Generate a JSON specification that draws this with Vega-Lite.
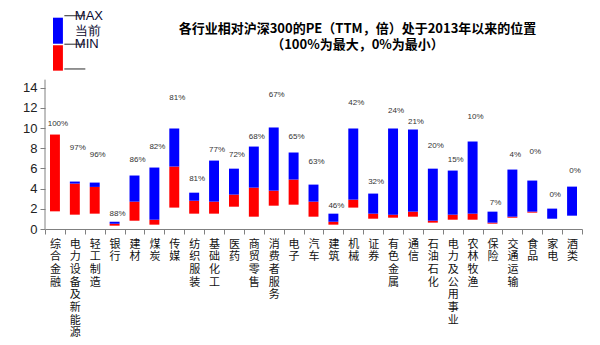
{
  "$schema": "https://vega.github.io/schema/vega-lite/v6.json",
  "width": 537,
  "height": 222,
  "autosize": "none",
  "padding": {"left": 45, "top": 7, "right": 18, "bottom": 116},
  "background": "white",
  "title": {
    "text": ["各行业相对沪深300的PE（TTM，倍）处于2013年以来的位置", "（100%为最大，0%为最小）"],
    "font": "Noto Sans CJK SC",
    "fontSize": 13,
    "fontWeight": "bold",
    "color": "#000000",
    "lineHeight": 16,
    "anchor": "middle",
    "frame": "group",
    "dx": 44,
    "offset": -45
  },
  "datasets": {
    "main": [
      {"cat": "综合金融", "max": 9.36, "cur": 9.36, "min": 1.75, "pct": "100%", "labelPos": 10.43},
      {"cat": "电力设备及新能源", "max": 4.7, "cur": 4.5, "min": 1.42, "pct": "97%", "labelPos": 8.04},
      {"cat": "轻工制造", "max": 4.6, "cur": 4.17, "min": 1.52, "pct": "96%", "labelPos": 7.38},
      {"cat": "银行", "max": 0.72, "cur": 0.52, "min": 0.33, "pct": "88%", "labelPos": 1.52},
      {"cat": "建材", "max": 5.3, "cur": 2.71, "min": 0.82, "pct": "86%", "labelPos": 6.88},
      {"cat": "煤炭", "max": 6.09, "cur": 0.92, "min": 0.43, "pct": "82%", "labelPos": 8.14},
      {"cat": "传媒", "max": 9.96, "cur": 6.19, "min": 2.12, "pct": "81%", "labelPos": 13.0},
      {"cat": "纺织服装", "max": 3.6, "cur": 2.8, "min": 1.52, "pct": "81%", "labelPos": 4.96},
      {"cat": "基础化工", "max": 6.78, "cur": 2.71, "min": 1.52, "pct": "77%", "labelPos": 7.87},
      {"cat": "医药", "max": 5.98, "cur": 3.41, "min": 2.21, "pct": "72%", "labelPos": 7.38},
      {"cat": "商贸零售", "max": 8.17, "cur": 4.1, "min": 1.22, "pct": "68%", "labelPos": 9.1},
      {"cat": "消费者服务", "max": 10.06, "cur": 3.8, "min": 2.31, "pct": "67%", "labelPos": 13.27},
      {"cat": "电子", "max": 7.58, "cur": 4.9, "min": 2.41, "pct": "65%", "labelPos": 9.1},
      {"cat": "汽车", "max": 4.4, "cur": 2.71, "min": 1.22, "pct": "63%", "labelPos": 6.62},
      {"cat": "建筑", "max": 1.52, "cur": 0.72, "min": 0.43, "pct": "46%", "labelPos": 2.31},
      {"cat": "机械", "max": 9.96, "cur": 2.91, "min": 2.12, "pct": "42%", "labelPos": 12.51},
      {"cat": "证券", "max": 3.51, "cur": 1.52, "min": 1.02, "pct": "32%", "labelPos": 4.63},
      {"cat": "有色金属", "max": 9.96, "cur": 1.42, "min": 1.12, "pct": "24%", "labelPos": 11.65},
      {"cat": "通信", "max": 9.86, "cur": 1.72, "min": 1.22, "pct": "21%", "labelPos": 10.56},
      {"cat": "石油石化", "max": 5.98, "cur": 0.82, "min": 0.63, "pct": "20%", "labelPos": 8.2},
      {"cat": "电力及公用事业", "max": 5.79, "cur": 1.42, "min": 0.92, "pct": "15%", "labelPos": 6.88},
      {"cat": "农林牧渔", "max": 8.67, "cur": 1.52, "min": 0.92, "pct": "10%", "labelPos": 11.05},
      {"cat": "保险", "max": 1.72, "cur": 0.63, "min": 0.53, "pct": "7%", "labelPos": 2.58},
      {"cat": "交通运输", "max": 5.89, "cur": 1.22, "min": 1.12, "pct": "4%", "labelPos": 7.38},
      {"cat": "食品", "max": 4.8, "cur": 1.72, "min": 1.62, "pct": "0%", "labelPos": 7.68},
      {"cat": "家电", "max": 2.02, "cur": 1.02, "min": 1.02, "pct": "0%", "labelPos": 3.41},
      {"cat": "酒类", "max": 4.2, "cur": 1.32, "min": 1.32, "pct": "0%", "labelPos": 5.79}
    ],
    "legendBar": [
      {"cat": "综合金融", "part": "当前→MAX", "lo": 18.36, "hi": 20.94},
      {"cat": "综合金融", "part": "MIN→当前", "lo": 15.69, "hi": 18.21}
    ],
    "legendLine": [
      {"cat": "电力设备及新能源", "v": 21.14},
      {"cat": "电力设备及新能源", "v": 18.31},
      {"cat": "电力设备及新能源", "v": 15.86}
    ],
    "legendText": [
      {"cat": "电力设备及新能源", "v": 21.14, "label": "MAX"},
      {"cat": "电力设备及新能源", "v": 19.62, "label": "当前"},
      {"cat": "电力设备及新能源", "v": 18.31, "label": "MIN"}
    ],
    "yAxisLine": [
      {"cat": "综合金融", "lo": 0, "hi": 14.8}
    ]
  },
  "layer": [
    {
      "data": {"name": "main"},
      "mark": {"type": "bar", "color": "#FF0000", "width": {"band": 0.5}},
      "encoding": {
        "x": {"field": "cat", "type": "nominal", "sort": null, "title": null,
          "scale": {"paddingInner": 0, "paddingOuter": 0,
            "domain": ["综合金融", "电力设备及新能源", "轻工制造", "银行", "建材", "煤炭", "传媒", "纺织服装", "基础化工", "医药", "商贸零售", "消费者服务", "电子", "汽车", "建筑", "机械", "证券", "有色金属", "通信", "石油石化", "电力及公用事业", "农林牧渔", "保险", "交通运输", "食品", "家电", "酒类"]},
          "axis": {
            "labelAngle": 0,
            "labelExpr": "split(datum.label, '')",
            "labelBaseline": "top",
            "labelAlign": "center",
            "labelLineHeight": 12.7,
            "labelFontSize": 11,
            "labelFont": "Noto Sans CJK SC",
            "labelColor": "#111111",
            "labelPadding": 4,
            "labelOverlap": false,
            "labelLimit": 0,
            "tickBand": "extent",
            "tickSize": 5,
            "tickColor": "#808080",
            "domainColor": "#808080",
            "grid": false
          }
        },
        "y": {"field": "min", "type": "quantitative", "title": null,
          "scale": {"domain": [0, 22], "nice": false, "zero": true},
          "axis": {
            "values": [0, 2, 4, 6, 8, 10, 12, 14],
            "tickCount": 20,
            "domain": false,
            "grid": false,
            "tickSize": 5,
            "tickColor": "#808080",
            "labelFontSize": 13,
            "labelFont": "Liberation Sans",
            "labelColor": "#222222",
            "labelPadding": 3,
            "labelOverlap": false
          }
        },
        "y2": {"field": "cur"}
      }
    },
    {
      "data": {"name": "main"},
      "mark": {"type": "bar", "color": "#0000FF", "width": {"band": 0.5}},
      "encoding": {
        "x": {"field": "cat", "type": "nominal", "sort": null, "title": null},
        "y": {"field": "cur", "type": "quantitative", "title": null},
        "y2": {"field": "max"}
      }
    },
    {
      "data": {"name": "main"},
      "mark": {"type": "text", "fontSize": 8, "font": "Liberation Sans", "color": "#333333", "dx": 3, "baseline": "middle", "align": "center"},
      "encoding": {
        "x": {"field": "cat", "type": "nominal", "sort": null, "title": null},
        "y": {"field": "labelPos", "type": "quantitative", "title": null},
        "text": {"field": "pct"}
      }
    },
    {
      "data": {"name": "yAxisLine"},
      "mark": {"type": "rule", "color": "#808080", "strokeWidth": 1},
      "encoding": {
        "x": {"field": "cat", "type": "nominal", "bandPosition": 0, "title": null},
        "y": {"field": "lo", "type": "quantitative", "title": null},
        "y2": {"field": "hi"}
      }
    },
    {
      "data": {"name": "legendBar"},
      "mark": {"type": "bar", "width": {"band": 0.5}, "xOffset": 3},
      "encoding": {
        "x": {"field": "cat", "type": "nominal", "title": null},
        "y": {"field": "lo", "type": "quantitative", "title": null},
        "y2": {"field": "hi"},
        "color": {"field": "part", "type": "nominal", "legend": null,
          "scale": {"domain": ["当前→MAX", "MIN→当前"], "range": ["#0000FF", "#FF0000"]}}
      }
    },
    {
      "data": {"name": "legendLine"},
      "mark": {"type": "tick", "color": "#000000", "size": 21, "thickness": 1.2, "orient": "horizontal"},
      "encoding": {
        "x": {"field": "cat", "type": "nominal", "title": null},
        "y": {"field": "v", "type": "quantitative", "title": null}
      }
    },
    {
      "data": {"name": "legendText"},
      "mark": {"type": "text", "align": "left", "baseline": "middle", "fontSize": 13, "font": "Liberation Sans", "color": "#0a0a30"},
      "encoding": {
        "x": {"field": "cat", "type": "nominal", "title": null},
        "y": {"field": "v", "type": "quantitative", "title": null},
        "text": {"field": "label"}
      }
    }
  ],
  "config": {
    "view": {"stroke": null},
    "axis": {"grid": false},
    "axisY": {"labelOverlap": false}
  }
}
